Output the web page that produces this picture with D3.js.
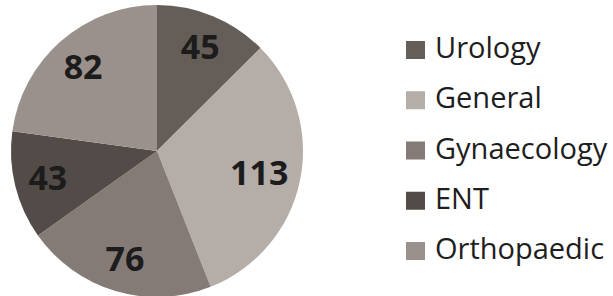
<!DOCTYPE html>
<html>
<head>
<meta charset="utf-8">
<script src="https://cdn.jsdelivr.net/npm/d3@7"></script>
<style>
  body { margin: 0; background: #fff; }
  svg text { font-family: "Open Sans", sans-serif; }
</style>
</head>
<body>
<svg id="chart" width="613" height="296"></svg>
<script>
// departments, clockwise from 12 o'clock
const categories = ['Urology', 'General', 'Gynaecology', 'ENT', 'Orthopaedic']
const values = [45, 113, 76, 43, 82]
const colors = ['#655d58', '#b5ada8', '#847b76', '#534b47', '#9a918c']

const svg = d3.select('#chart')
const cx = 157, cy = 151, r = 146

const pie = d3.pie().sort(null).value(d => d.value)
const arcs = pie(categories.map((c, i) => ({ name: c, value: values[i] })))
const arc = d3.arc().innerRadius(0).outerRadius(r)

// wider labels sit a little further in
const labelPos = d => {
  const lr = r * 0.77 - (String(d.data.value).length - 2) * 8
  return d3.arc().innerRadius(lr).outerRadius(lr).centroid(d)
}

const g = svg.append('g').attr('transform', `translate(${cx},${cy})`)

g.selectAll('path.slice')
  .data(arcs)
  .enter().append('path').classed('slice', true)
  .attr('d', arc)
  .attr('fill', (d, i) => colors[i])

g.selectAll('text.val')
  .data(arcs)
  .enter().append('text').classed('val', true)
  .attr('transform', d => `translate(${labelPos(d)})`)
  .attr('text-anchor', 'middle')
  .attr('dy', '0.36em')
  .attr('font-size', 34)
  .attr('font-weight', 700)
  .attr('fill', '#1c1c1c')
  .text(d => d.data.value)

// legend
const legend = svg.append('g').attr('transform', 'translate(406,41)')
const rows = legend.selectAll('g.row')
  .data(categories)
  .enter().append('g').classed('row', true)
  .attr('transform', (d, i) => `translate(0,${i * 50.25})`)

rows.append('rect')
  .attr('width', 19).attr('height', 18)
  .attr('fill', (d, i) => colors[i])

rows.append('text')
  .attr('x', 29).attr('y', 17)
  .attr('font-size', 29)
  .attr('fill', '#1e1e1e')
  .text(d => d)
</script>
</body>
</html>
